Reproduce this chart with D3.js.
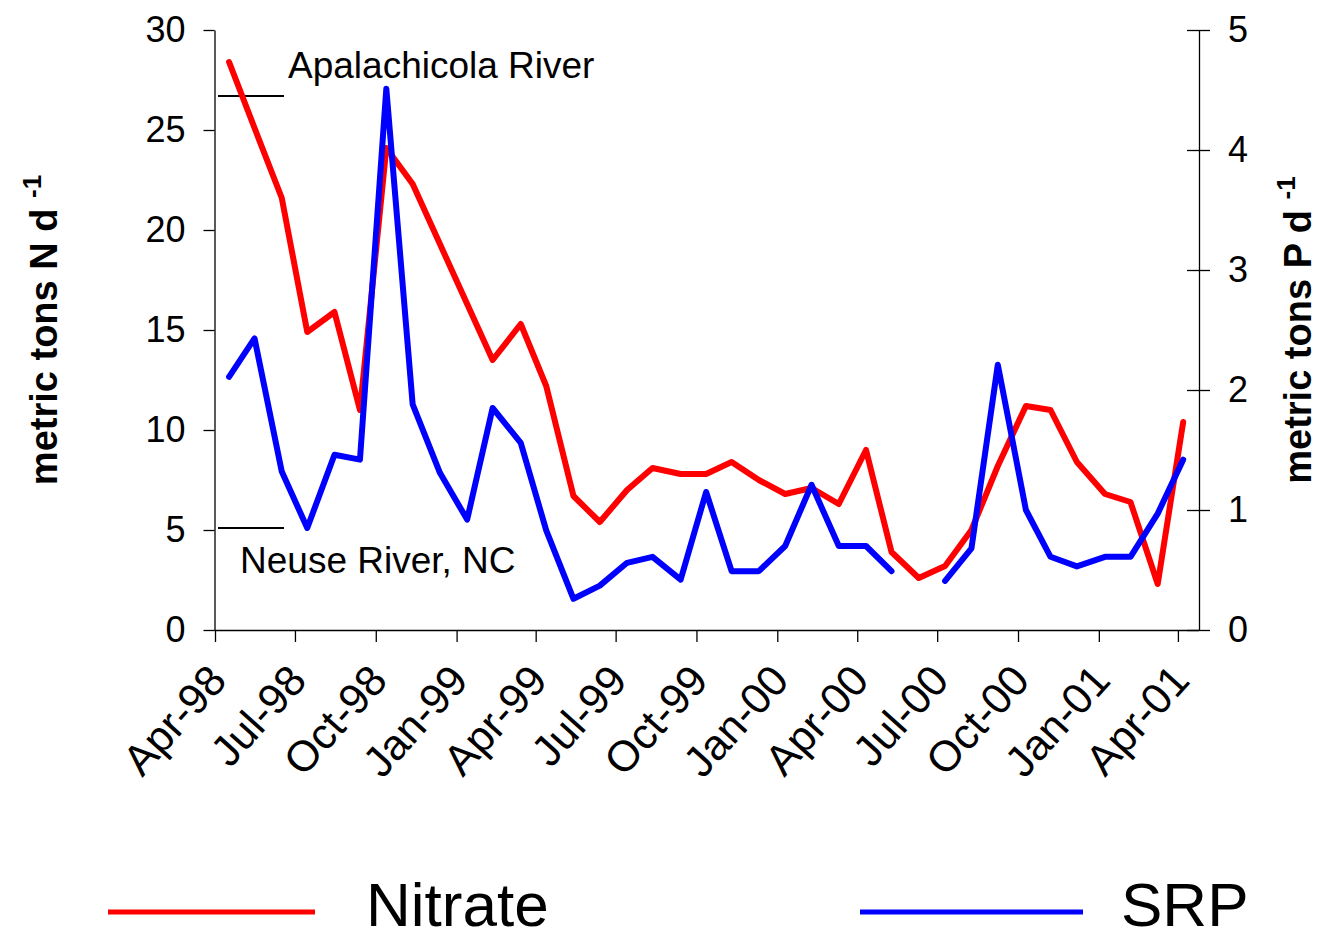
<!DOCTYPE html>
<html>
<head>
<meta charset="utf-8">
<script src="https://cdn.jsdelivr.net/npm/d3@7"></script>
<style>
  html, body { margin: 0; padding: 0; background: #fff; }
  svg { display: block; font-family: "Liberation Sans", Arial, Helvetica, sans-serif; }
</style>
</head>
<body>
<svg id="chart" width="1319" height="939"></svg>
<script>
// Monthly sampling dates (Apr 1998 – Apr 2001)
const sampleDates = [
  "1998-04-17", "1998-05-16", "1998-06-16", "1998-07-15", "1998-08-15", "1998-09-13",
  "1998-10-13", "1998-11-12", "1998-12-13", "1999-01-13", "1999-02-11", "1999-03-15",
  "1999-04-13", "1999-05-14", "1999-06-13", "1999-07-14", "1999-08-12", "1999-09-13",
  "1999-10-12", "1999-11-10", "1999-12-11", "2000-01-10", "2000-02-09", "2000-03-11",
  "2000-04-11", "2000-05-10", "2000-06-10", "2000-07-10", "2000-08-09", "2000-09-08",
  "2000-10-10", "2000-11-07", "2000-12-07", "2001-01-08", "2001-02-06", "2001-03-09",
  "2001-04-07"
];

// Nitrate load, metric tons N per day (left axis)
const nitrate = [
  28.4, 25.1, 21.6, 14.9, 15.9, 11.0,
  24.1, 22.3, 19.3, 16.3, 13.5, 15.3,
  12.2, 6.7, 5.4, 7.0, 8.1, 7.8,
  7.8, 8.4, 7.5, 6.8, 7.1, 6.3,
  9.0, 3.9, 2.6, 3.2, 5.0, 8.2,
  11.2, 11.0, 8.4, 6.8, 6.4, 2.3,
  10.4
];

// SRP load, metric tons P per day (right axis); June 2000 not sampled
const srp = [
  2.11, 2.43, 1.32, 0.85, 1.46, 1.42,
  4.51, 1.88, 1.31, 0.92, 1.85, 1.56,
  0.83, 0.26, 0.37, 0.56, 0.61, 0.42,
  1.15, 0.49, 0.49, 0.70, 1.21, 0.70,
  0.70, 0.49, null, 0.41, 0.68, 2.21,
  1.00, 0.61, 0.53, 0.61, 0.61, 0.97,
  1.42
];

const leftTicks = [0, 5, 10, 15, 20, 25, 30];
const rightTicks = [0, 1, 2, 3, 4, 5];
const xTickDates = [
  "1998-04-01", "1998-07-01", "1998-10-01", "1999-01-01", "1999-04-01", "1999-07-01",
  "1999-10-01", "2000-01-01", "2000-04-01", "2000-07-01", "2000-10-01", "2001-01-01",
  "2001-04-01"
];
const xDomain = ["1998-04-01", "2001-04-25"];

// Reference levels marked on the nitrate axis
const refLevels = [
  { label: "Apalachicola River", value: 26.7 },
  { label: "Neuse River, NC", value: 5.1 }
];

const parse = d3.utcParse("%Y-%m-%d");
const fmt = d3.utcFormat("%b-%y");

const svg = d3.select("#chart");
const plot = { left: 215, right: 1199, top: 30, bottom: 630 };

svg.append("rect").attr("width", 1319).attr("height", 939).attr("fill", "#fff");

const x = d3.scaleUtc().domain(xDomain.map(parse)).range([plot.left, plot.right]);
const yL = d3.scaleLinear().domain([0, 30]).range([plot.bottom, plot.top]);
const yR = d3.scaleLinear().domain([0, 5]).range([plot.bottom, plot.top]);

const rows = sampleDates.map((d, i) => ({ date: parse(d), n: nitrate[i], p: srp[i] }));

// Left axis
const gL = svg.append("g")
  .attr("transform", `translate(${plot.left - 0.5},0)`)
  .call(d3.axisLeft(yL).tickValues(leftTicks).tickFormat(d3.format("d"))
    .tickSize(11).tickPadding(18).tickSizeOuter(0));

// Right axis (ticks cross the line)
const gR = svg.append("g")
  .attr("transform", `translate(${plot.right},0)`)
  .call(d3.axisRight(yR).tickValues(rightTicks).tickFormat(d3.format("d"))
    .tickSize(11).tickPadding(18).tickSizeOuter(0));
gR.selectAll(".tick line").attr("x1", -12).attr("x2", 11);

// Bottom axis
const gB = svg.append("g")
  .attr("transform", `translate(0,${plot.bottom})`)
  .call(d3.axisBottom(x).tickValues(xTickDates.map(parse)).tickFormat(fmt).tickSize(12).tickSizeOuter(0));
gB.select(".domain").attr("d", `M${plot.left - 0.5},0.5H${plot.right}`);

[gL, gR, gB].forEach(g => {
  g.select(".domain").attr("stroke", "#000").attr("stroke-width", 1.3);
  g.selectAll(".tick line").attr("stroke", "#000").attr("stroke-width", 1.3);
  g.selectAll(".tick text").attr("fill", "#000").attr("font-size", 36)
    .attr("font-family", '"Liberation Sans", Arial, sans-serif');
});

gB.selectAll(".tick text")
  .attr("text-anchor", "end")
  .attr("font-size", 43)
  .attr("dy", 0)
  .attr("y", 0)
  .attr("transform", "translate(13,52) rotate(-48)");

// Axis titles
function axisTitle(tx, ty, main) {
  const t = svg.append("text")
    .attr("transform", `translate(${tx},${ty}) rotate(-90)`)
    .attr("text-anchor", "middle")
    .attr("font-weight", "bold")
    .attr("font-size", 38)
    .attr("fill", "#000");
  t.append("tspan").text(main + " ");
  t.append("tspan").attr("font-size", 26).attr("dy", -16).text("-1");
}
axisTitle(57, 330, "metric tons N d");
axisTitle(1311, 330, "metric tons P d");

// Reference markers and labels
svg.selectAll(".ref")
  .data(refLevels)
  .join("line")
  .attr("class", "ref")
  .attr("x1", plot.left + 3).attr("x2", plot.left + 69)
  .attr("y1", d => yL(d.value)).attr("y2", d => yL(d.value))
  .attr("stroke", "#000").attr("stroke-width", 2);

svg.append("text")
  .attr("x", 288).attr("y", yL(refLevels[0].value) - 18)
  .attr("font-size", 37).attr("fill", "#000")
  .text(refLevels[0].label);
svg.append("text")
  .attr("x", 240).attr("y", yL(refLevels[1].value) + 45)
  .attr("font-size", 37).attr("fill", "#000")
  .text(refLevels[1].label);

// Series lines
const nitrateLine = d3.line()
  .defined(d => d.n != null)
  .x(d => x(d.date)).y(d => yL(d.n));
const srpLine = d3.line()
  .defined(d => d.p != null)
  .x(d => x(d.date)).y(d => yR(d.p));

svg.append("path")
  .datum(rows)
  .attr("d", nitrateLine)
  .attr("fill", "none").attr("stroke", "#ff0000").attr("stroke-width", 6)
  .attr("stroke-linejoin", "round").attr("stroke-linecap", "round");

svg.append("path")
  .datum(rows)
  .attr("d", srpLine)
  .attr("fill", "none").attr("stroke", "#0000ff").attr("stroke-width", 6)
  .attr("stroke-linejoin", "round").attr("stroke-linecap", "round");

// Legend
const legend = [
  { name: "Nitrate", color: "#ff0000", x1: 108, x2: 315, tx: 366 },
  { name: "SRP", color: "#0000ff", x1: 860, x2: 1083, tx: 1121 }
];
const lg = svg.append("g");
lg.selectAll("line")
  .data(legend)
  .join("line")
  .attr("x1", d => d.x1).attr("x2", d => d.x2)
  .attr("y1", 912).attr("y2", 912)
  .attr("stroke", d => d.color).attr("stroke-width", 5);
lg.selectAll("text")
  .data(legend)
  .join("text")
  .attr("x", d => d.tx).attr("y", 926)
  .attr("font-size", 62).attr("fill", "#000")
  .text(d => d.name);
</script>
</body>
</html>
